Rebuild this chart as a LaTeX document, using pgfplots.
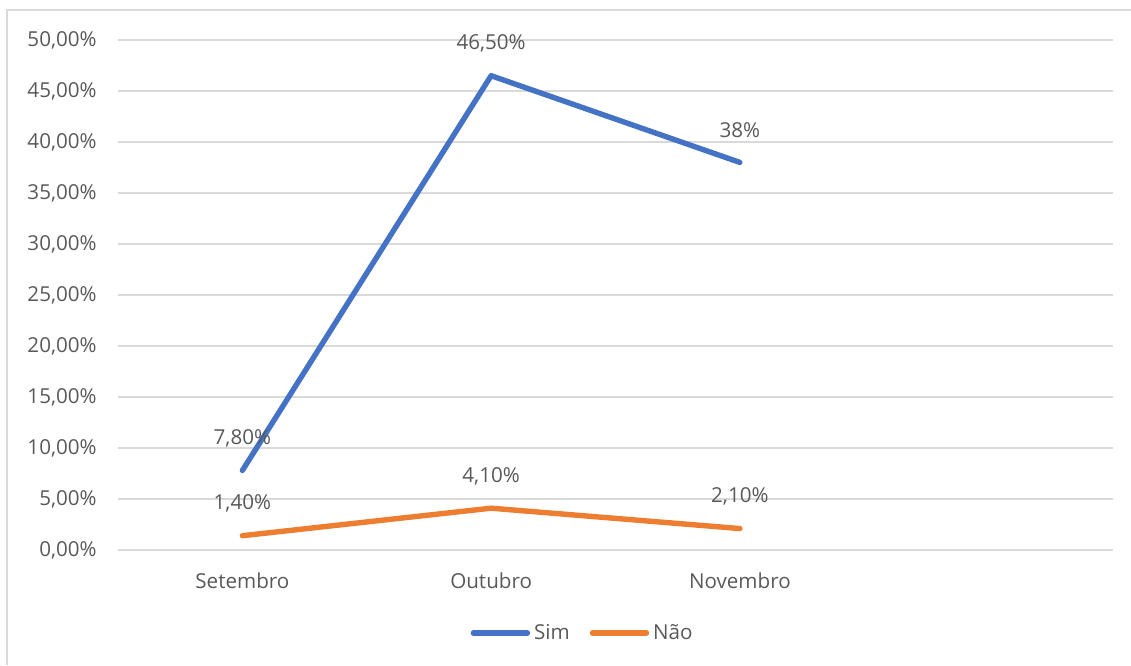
\documentclass[border=0pt]{standalone}
\usepackage{fontspec}
\setmainfont{Open Sans}
\usepackage{pgfplots}
\pgfplotsset{compat=1.18}
\definecolor{txt}{HTML}{595959}
\definecolor{gridc}{HTML}{D9D9D9}
\definecolor{simc}{HTML}{4472C4}
\definecolor{naoc}{HTML}{ED7D31}
\newcommand{\cf}{\fontsize{10.3pt}{12.5pt}\selectfont}
\begin{document}
\begin{tikzpicture}
\path[use as bounding box] (-59pt,275pt) rectangle (506.5pt,-57.5pt);
\draw[gridc, line width=1pt] (-55.5pt,-57.5pt) -- (-55.5pt,270pt) -- (506.5pt,270pt);
\begin{axis}[
  at={(0pt,0pt)}, anchor=south west,
  scale only axis, width=497.5pt, height=255pt,
  xmin=-0.5, xmax=3.5, ymin=0, ymax=50,
  axis line style={draw=none},
  major tick length=0pt,
  xtick={0,1,2}, xticklabels={Setembro,Outubro,Novembro},
  ytick={0,5,...,50},
  yticklabels={{0,00\%},{5,00\%},{10,00\%},{15,00\%},{20,00\%},{25,00\%},{30,00\%},{35,00\%},{40,00\%},{45,00\%},{50,00\%}},
  ymajorgrids, grid style={gridc, line width=0.75pt},
  yticklabel style={font=\cf, text=txt, anchor=east, inner sep=0pt, xshift=-10.5pt},
  xticklabel style={font=\cf, text=txt, anchor=center, inner sep=0pt, yshift=-15.5pt},
  clip=false,
  legend columns=2,
  legend style={draw=none, fill=none, font=\cf, text=txt, at={(0.468,-0.1627)}, anchor=center,
    /tikz/every even column/.append style={column sep=8pt}, inner sep=0pt},
  legend cell align=left,
  nodes near coords, point meta=explicit symbolic,
  every node near coord/.append style={font=\cf, text=txt, anchor=center, yshift=16pt, inner sep=0pt},
]
\addplot[simc, line width=2.7pt, line cap=round, line join=round,
  legend image code/.code={\draw[simc, line width=2.7pt, line cap=round] (0pt,0pt) -- (27pt,0pt);}]
  table[meta=lab] {
x y lab
0 7.8 7,80\%
1 46.5 46,50\%
2 38 38\%
};
\addlegendentry{Sim}
\addplot[naoc, line width=2.7pt, line cap=round, line join=round,
  legend image code/.code={\draw[naoc, line width=2.7pt, line cap=round] (0pt,0pt) -- (27pt,0pt);}]
  table[meta=lab] {
x y lab
0 1.4 1,40\%
1 4.1 4,10\%
2 2.1 2,10\%
};
\addlegendentry{Não}
\end{axis}
\end{tikzpicture}
\end{document}
